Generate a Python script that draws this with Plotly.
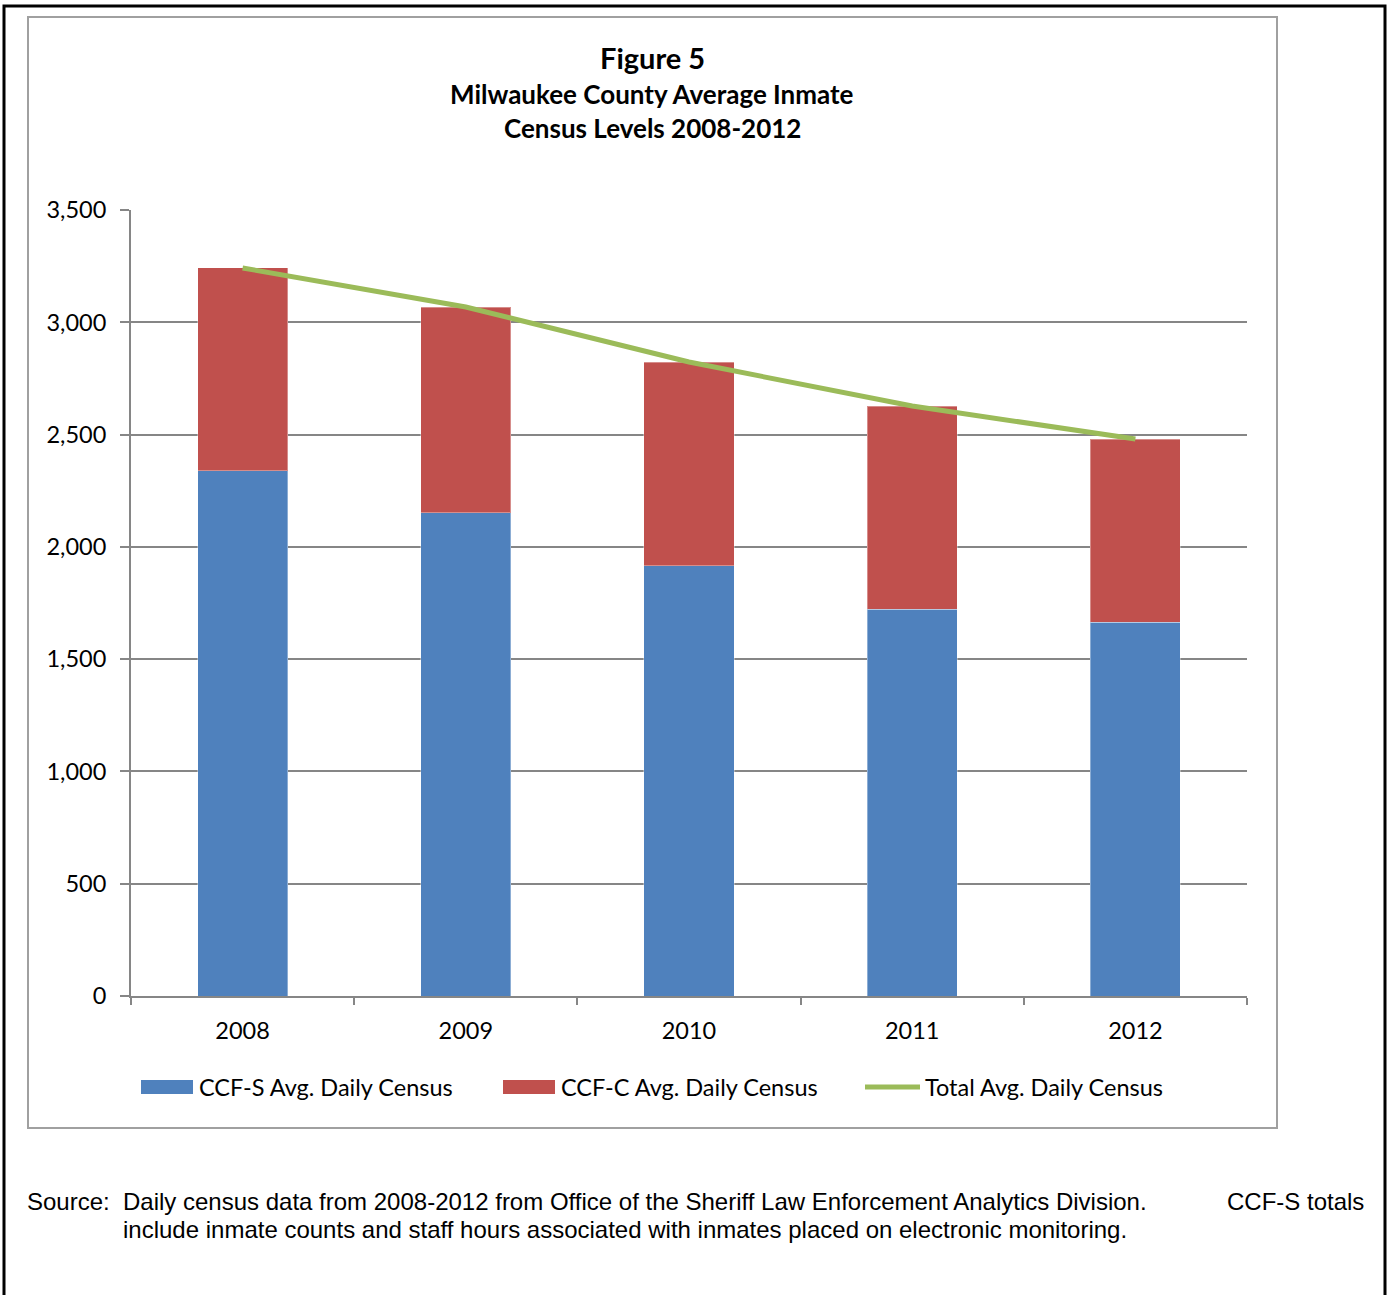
import plotly.graph_objects as go

# Milwaukee County average daily inmate census by facility
years = ["2008", "2009", "2010", "2011", "2012"]
ccf_s = [2338, 2151, 1915, 1723, 1665]
ccf_c = [904, 917, 908, 904, 815]
total = [s + c for s, c in zip(ccf_s, ccf_c)]
y_ticks = [0, 500, 1000, 1500, 2000, 2500, 3000, 3500]
y_labels = ["0", "500", "1,000", "1,500", "2,000", "2,500", "3,000", "3,500"]
series_names = ["CCF-S Avg. Daily Census", "CCF-C Avg. Daily Census", "Total Avg. Daily Census"]
series_colors = ["#4F81BD", "#C0504D", "#9BBB59"]

W, H = 1388, 1295
L, R, T, B = 131, 1247, 210, 996
PW, PH = R - L, B - T

def px(x):
    return (x - L) / PW

def py(y):
    return (B - y) / PH

SANS = "Lato, Calibri, sans-serif"
ARIAL = "Liberation Sans, Arial, sans-serif"
GRAY = "#868686"
EDGE = "rgba(255,255,255,0.35)"

fig = go.Figure()
fig.add_trace(go.Bar(x=years, y=ccf_s, name=series_names[0],
                     marker=dict(color=series_colors[0], line=dict(color=EDGE, width=1))))
fig.add_trace(go.Bar(x=years, y=ccf_c, name=series_names[1],
                     marker=dict(color=series_colors[1], line=dict(color=EDGE, width=1))))
fig.add_trace(go.Scatter(x=years, y=total, name=series_names[2], mode="lines",
                         line=dict(color=series_colors[2], width=5)))

shapes = [
    # outer page border
    dict(type="rect", xref="paper", yref="paper", x0=px(4), x1=px(1385), y0=py(1310), y1=py(6),
         line=dict(color="black", width=3), layer="below"),
    # chart frame
    dict(type="rect", xref="paper", yref="paper", x0=px(28), x1=px(1277), y0=py(1128), y1=py(17),
         line=dict(color="#A0A0A0", width=2), layer="below"),
]
annotations = [
    dict(text="<b>Figure 5</b>", x=px(652), y=py(57), font=dict(size=29, family=SANS)),
    dict(text="<b>Milwaukee County Average Inmate</b>", x=px(652), y=py(94), font=dict(size=26, family=SANS)),
    dict(text="<b>Census Levels 2008-2012</b>", x=px(652), y=py(128), font=dict(size=26, family=SANS)),
]
for a in annotations:
    a.update(xref="paper", yref="paper", showarrow=False, xanchor="center", yanchor="middle")

# legend row drawn beneath the axis
legend_x = [141, 503, 865]
for i, (name, color) in enumerate(zip(series_names, series_colors)):
    x0 = legend_x[i]
    if i < 2:
        shapes.append(dict(type="rect", xref="paper", yref="paper", x0=px(x0), x1=px(x0 + 52),
                           y0=py(1094), y1=py(1080), fillcolor=color, line=dict(width=0)))
    else:
        shapes.append(dict(type="line", xref="paper", yref="paper", x0=px(x0), x1=px(x0 + 55),
                           y0=py(1087), y1=py(1087), line=dict(color=color, width=5)))
    tx = x0 + (56 if i < 2 else 58)
    annotations.append(dict(text=name, x=px(tx), y=py(1087), xref="paper", yref="paper",
                            showarrow=False, xanchor="left", yanchor="middle",
                            font=dict(size=23.5, family=SANS)))

# source note
notes = [
    ("Source:", 25, 1201, "left"),
    ("Daily census data from 2008-2012 from Office of the Sheriff Law Enforcement Analytics Division.", 121, 1201, "left"),
    ("CCF-S totals", 1366, 1201, "right"),
    ("include inmate counts and staff hours associated with inmates placed on electronic monitoring.", 121, 1229, "left"),
]
for text, x, y, anchor in notes:
    annotations.append(dict(text=text, x=px(x), y=py(y), xref="paper", yref="paper", showarrow=False,
                            xanchor=anchor, yanchor="middle", font=dict(size=24, family=ARIAL)))

fig.update_layout(
    width=W, height=H,
    margin=dict(l=L, r=W - R, t=T, b=H - B),
    paper_bgcolor="white", plot_bgcolor="white",
    barmode="stack", bargap=0.596,
    font=dict(family=SANS, size=23.5, color="black"),
    showlegend=False,
    xaxis=dict(type="category", showline=True, linecolor=GRAY, linewidth=2,
               ticks="outside", tickson="boundaries", ticklen=7, tickcolor=GRAY, tickwidth=2,
               showgrid=False, ticklabelstandoff=13, tickfont=dict(size=23.5, family=SANS)),
    yaxis=dict(range=[0, 3500], tickvals=y_ticks, ticktext=y_labels,
               showline=True, linecolor=GRAY, linewidth=2,
               ticks="outside", ticklen=9, tickcolor=GRAY, tickwidth=2,
               showgrid=True, gridcolor=GRAY, gridwidth=2, zeroline=False,
               ticklabelstandoff=9, tickfont=dict(size=23.5, family=SANS)),
    shapes=shapes,
    annotations=annotations,
)

fig.write_html("out.html")
